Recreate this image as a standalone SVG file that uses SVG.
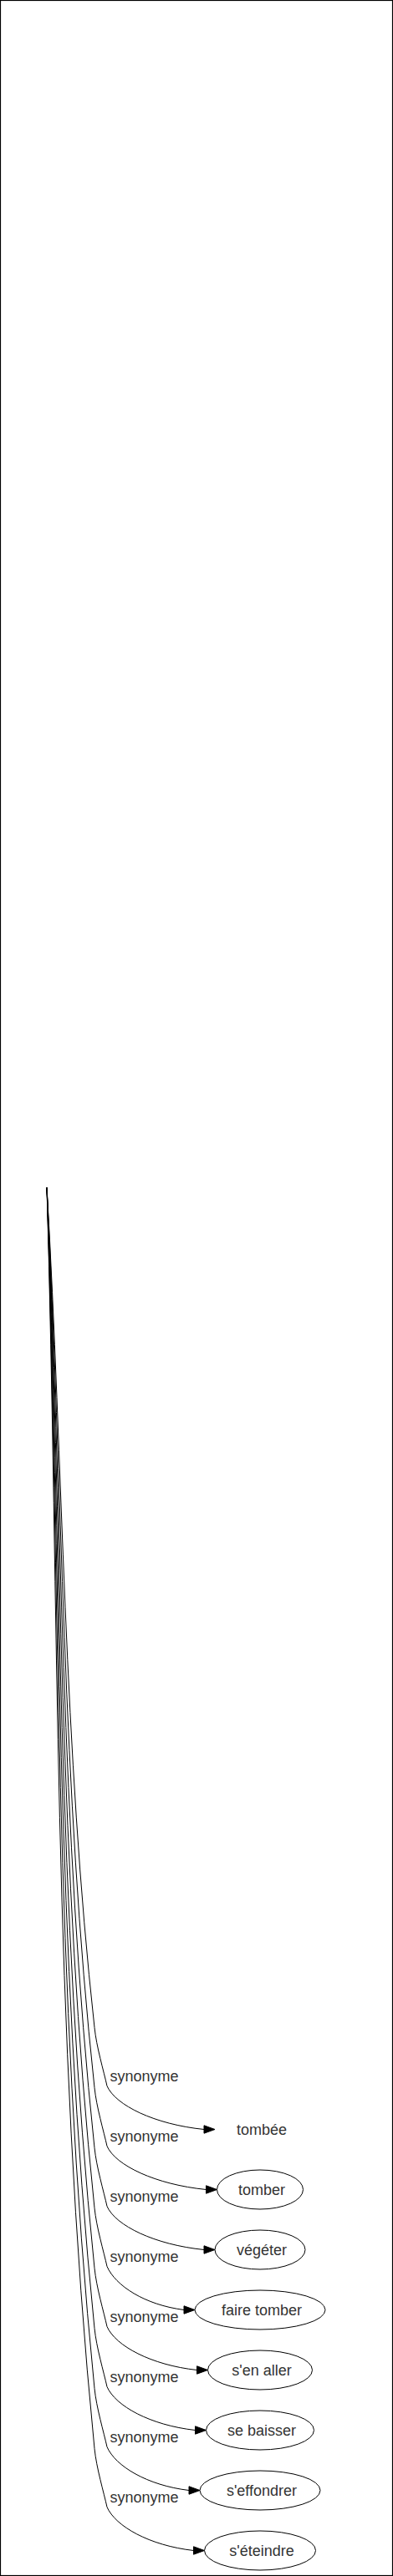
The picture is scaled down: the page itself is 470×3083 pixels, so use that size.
<svg xmlns="http://www.w3.org/2000/svg" width="470" height="3083" viewBox="0 0 470 3083">
<style>
.e{fill:none;stroke:#000;stroke-width:1}
.a{fill:#000;stroke:#000;stroke-width:1}
.n{fill:#fff;stroke:#000;stroke-width:1}
text{font-family:"Liberation Sans",Arial,sans-serif;font-size:18px;fill:#333}
.t{text-anchor:middle}
</style>
<rect x="0.5" y="0.5" width="469" height="3082" fill="#fff" stroke="#000" stroke-width="1.2"/>
<g id="edges">
<g id="e0"><path class="e" d="M56,1421 C75.6,1756.2 76.1,2091.3 113,2426.5 C115.3,2449.5 124,2478.5 128,2496.5 C138,2519.5 184.8,2542.5 244,2548.5"/><polygon class="a" points="244,2543.8 257,2548.5 244,2553.2"/><text x="131.5" y="2491">synonyme</text></g>
<g id="e1"><path class="e" d="M56,1421 C75,1780.2 74.2,2139.3 113,2498.5 C115.3,2521.5 124,2550.5 128,2568.5 C138,2591.5 186.1,2614.5 246.5,2620.5"/><polygon class="a" points="246.5,2615.8 259.5,2620.5 246.5,2625.2"/><text x="131.5" y="2563">synonyme</text></g>
<g id="e2"><path class="e" d="M56,1421 C74.3,1804.2 72.4,2187.3 113,2570.5 C115.3,2593.5 124,2622.5 128,2640.5 C138,2663.5 184.8,2686.5 244,2692.5"/><polygon class="a" points="244,2687.8 257,2692.5 244,2697.2"/><text x="131.5" y="2635">synonyme</text></g>
<g id="e3"><path class="e" d="M56,1421 C73.7,1828.2 70.5,2235.3 113,2642.5 C115.3,2665.5 124,2694.5 128,2712.5 C138,2735.5 173.1,2758.5 220,2764.5"/><polygon class="a" points="220,2759.8 233,2764.5 220,2769.2"/><text x="131.5" y="2707">synonyme</text></g>
<g id="e4"><path class="e" d="M56,1421 C73,1852.2 68.6,2283.3 113,2714.5 C115.3,2737.5 124,2766.5 128,2784.5 C138,2807.5 180.7,2830.5 235.5,2836.5"/><polygon class="a" points="235.5,2831.8 248.5,2836.5 235.5,2841.2"/><text x="131.5" y="2779">synonyme</text></g>
<g id="e5"><path class="e" d="M56,1421 C72.4,1876.2 66.8,2331.3 113,2786.5 C115.3,2809.5 124,2838.5 128,2856.5 C138,2879.5 179.7,2902.5 233.5,2908.5"/><polygon class="a" points="233.5,2903.8 246.5,2908.5 233.5,2913.2"/><text x="131.5" y="2851">synonyme</text></g>
<g id="e6"><path class="e" d="M56,1421 C71.7,1900.2 64.9,2379.3 113,2858.5 C115.3,2881.5 124,2910.5 128,2928.5 C138,2951.5 176,2974.5 226,2980.5"/><polygon class="a" points="226,2975.8 239,2980.5 226,2985.2"/><text x="131.5" y="2923">synonyme</text></g>
<g id="e7"><path class="e" d="M56,1421 C71.1,1924.2 63,2427.3 113,2930.5 C115.3,2953.5 124,2982.5 128,3000.5 C138,3023.5 178.7,3046.5 231.5,3052.5"/><polygon class="a" points="231.5,3047.8 244.5,3052.5 231.5,3057.2"/><text x="131.5" y="2995">synonyme</text></g>
</g>
<g id="n0"><text class="t" x="313" y="2554.5">tombée</text></g>
<g id="n1"><ellipse class="n" cx="311" cy="2620.5" rx="51.5" ry="23.5"/><text class="t" x="313" y="2627">tomber</text></g>
<g id="n2"><ellipse class="n" cx="311" cy="2692.5" rx="54" ry="23.5"/><text class="t" x="313" y="2699">végéter</text></g>
<g id="n3"><ellipse class="n" cx="311" cy="2764.5" rx="78" ry="23.5"/><text class="t" x="313" y="2771">faire tomber</text></g>
<g id="n4"><ellipse class="n" cx="311" cy="2836.5" rx="62.5" ry="23.5"/><text class="t" x="313" y="2843">s'en aller</text></g>
<g id="n5"><ellipse class="n" cx="311" cy="2908.5" rx="64.5" ry="23.5"/><text class="t" x="313" y="2915">se baisser</text></g>
<g id="n6"><ellipse class="n" cx="311" cy="2980.5" rx="72" ry="23.5"/><text class="t" x="313" y="2987">s'effondrer</text></g>
<g id="n7"><ellipse class="n" cx="311" cy="3052.5" rx="66.5" ry="23.5"/><text class="t" x="313" y="3059">s'éteindre</text></g>
</svg>
